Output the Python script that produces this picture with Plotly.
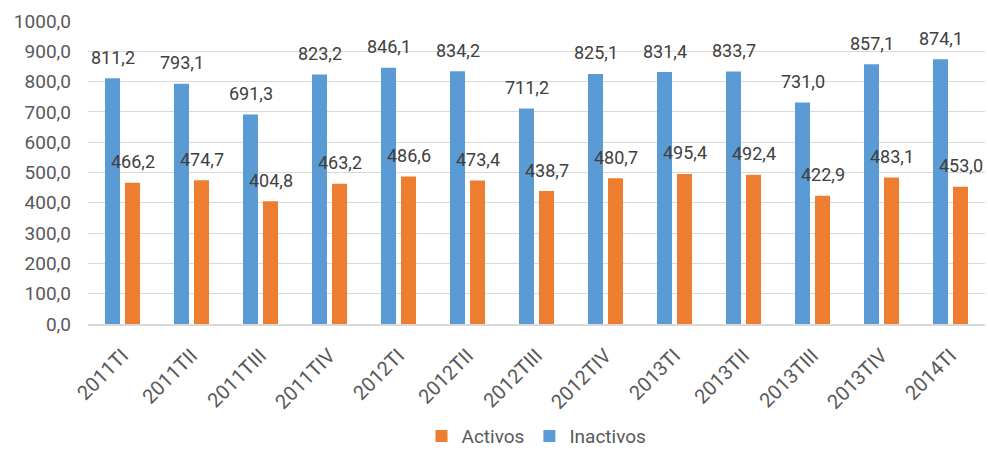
import plotly.graph_objects as go

quarters = ["2011TI", "2011TII", "2011TIII", "2011TIV",
            "2012TI", "2012TII", "2012TIII", "2012TIV",
            "2013TI", "2013TII", "2013TIII", "2013TIV", "2014TI"]
inactivos = [811.2, 793.1, 691.3, 823.2, 846.1, 834.2, 711.2,
             825.1, 831.4, 833.7, 731.0, 857.1, 874.1]
activos = [466.2, 474.7, 404.8, 463.2, 486.6, 473.4, 438.7,
           480.7, 495.4, 492.4, 422.9, 483.1, 453.0]
y_ticks = list(range(0, 1001, 100))

BLUE = "#5B9BD5"
ORANGE = "#ED7D31"
FONT = "Roboto"


def fmt(v):
    return f"{v:.1f}".replace(".", ",")


fig = go.Figure()
fig.add_trace(go.Bar(name="Inactivos", x=quarters, y=inactivos,
                     marker=dict(color=BLUE, line=dict(width=0))))
fig.add_trace(go.Bar(name="Activos", x=quarters, y=activos,
                     marker=dict(color=ORANGE, line=dict(width=0))))

# value labels, centred above each bar of the pair
for q, v in zip(quarters, inactivos):
    fig.add_annotation(x=q, y=v, text=fmt(v), showarrow=False,
                       xshift=-10, yshift=21, yanchor="middle",
                       font=dict(family=FONT, size=18, color="#404040"))
for q, v in zip(quarters, activos):
    fig.add_annotation(x=q, y=v, text=fmt(v), showarrow=False,
                       xshift=10, yshift=21, yanchor="middle",
                       font=dict(family=FONT, size=18, color="#404040"))

fig.update_layout(
    width=988, height=450,
    margin=dict(l=88, r=3, t=21, b=126, autoexpand=False),
    paper_bgcolor="white", plot_bgcolor="white",
    barmode="group", bargap=0.42, bargroupgap=0.25,
    separators=",.",
    font=dict(family=FONT, size=19, color="#595959"),
    legend=dict(orientation="h", x=0.5, xanchor="center", y=-0.37,
                yanchor="middle", traceorder="reversed",
                font=dict(family=FONT, size=19, color="#595959"),
                itemwidth=30, borderwidth=0),
    showlegend=True,
)
fig.update_yaxes(range=[0, 1000], tickvals=y_ticks, tickformat=".1f",
                 showgrid=True, gridcolor="#D9D9D9", gridwidth=1,
                 zeroline=False, showline=False, ticks="",
                 ticklabelstandoff=16, automargin=False,
                 tickfont=dict(family=FONT, size=19, color="#595959"))
fig.update_xaxes(tickangle=-45, showline=True, linecolor="#D9D9D9",
                 linewidth=2, ticks="", ticklabelstandoff=10,
                 automargin=False,
                 tickfont=dict(family=FONT, size=20, color="#595959"))

fig.write_html("out.html")
